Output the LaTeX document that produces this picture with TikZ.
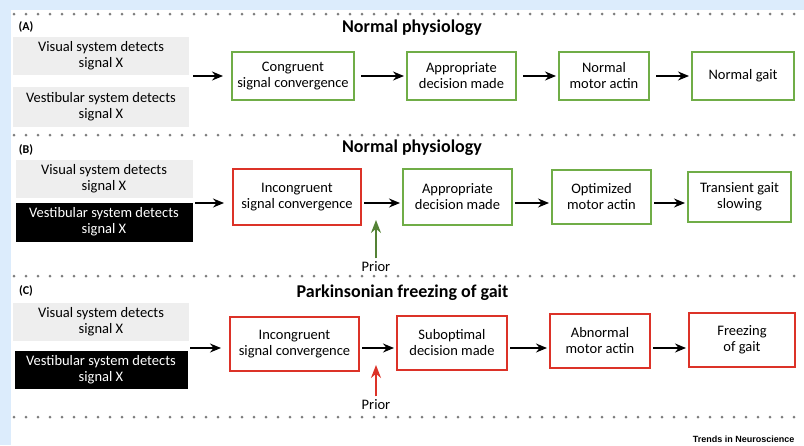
\documentclass[tikz,border=0pt]{standalone}
\usepackage{fontspec}
\setmainfont{Carlito}
\newfontfamily\journalfont{Liberation Sans}
\usetikzlibrary{arrows.meta,positioning}
\definecolor{sky}{RGB}{220,236,252}
\definecolor{okgreen}{RGB}{112,173,71}
\definecolor{priorgreen}{RGB}{84,130,53}
\definecolor{badred}{RGB}{220,50,40}
\definecolor{panelgray}{RGB}{238,238,238}
\definecolor{dotgray}{RGB}{125,125,125}
\tikzset{
  >={Stealth[length=11pt,width=9pt]},
  sense/.style={fill=#1,minimum width=176pt,minimum height=38pt,inner sep=0pt,
    align=center,font=\fontsize{14.5}{16}\selectfont},
  sense/.default=panelgray,
  dark sense/.style={sense=black,text=white},
  stepbox/.style={draw=#1,line width=2pt,fill=white,inner sep=0pt,
    align=center,font=\fontsize{14.5}{16}\selectfont},
  stepbox/.default=okgreen,
  flow/.style={->,line width=1.5pt,draw=#1},
  flow/.default=black,
  prior/.style={-{Stealth[length=13pt,width=10pt]},line width=1.6pt,draw=#1},
  divider/.style={dotgray,line width=3pt,line cap=round,dash pattern=on 0pt off 12pt},
  title/.style={font=\fontsize{18}{21}\selectfont\bfseries},
  panel/.style={font=\fontsize{12}{14}\selectfont\bfseries},
  tag/.style={font=\fontsize{14.5}{16}\selectfont},
}

\begin{document}
\begin{tikzpicture}[x=1pt,y=-1pt]
  \useasboundingbox (0,0) rectangle (804,445);
  \fill[sky] (0,0) rectangle (804,445);
  \fill[white] (11,10) rectangle (804,445);
  \foreach \y in {14,135,276,417}
    \draw[divider] (14,\y) -- (804,\y);

  % (A) normal physiology
  \node[panel] (alabel) at (26,27) {(A)};
  \node[title] (atitle) at (412,28) {Normal physiology};
  \node[sense] (avis) at (101,56) {Visual system detects\\signal X};
  \node[sense,minimum height=40pt] (avest) at (101,107) {Vestibular system detects\\signal X};
  \coordinate (asrc) at (193,76);
  \foreach \t/\x/\w [count=\i] in {
    Congruent\\signal convergence/293/122,
    Appropriate\\decision made/461.5/109,
    Normal\\motor actin/604/90,
    Normal gait/743/102}
    \node[stepbox=okgreen,minimum width=\w pt,minimum height=48pt] (a\i) at (\x,76) {\t};
  \draw[flow,shorten >=8pt] (asrc) -- (a1);
  \foreach \i/\j in {1/2,2/3,3/4}
    \draw[flow,shorten <=6pt,shorten >=2pt] (a\i) -- (a\j);

  % (B) normal physiology with mismatch
  \node[panel] (blabel) at (26,150) {(B)};
  \node[title] (btitle) at (412,148) {Normal physiology};
  \node[sense,minimum width=177pt] (bvis) at (104,179) {Visual system detects\\signal X};
  \node[dark sense,minimum width=177pt,minimum height=39pt] (bvest) at (104,222) {Vestibular system detects\\signal X};
  \coordinate (bsrc) at (195,203);
  \foreach \t/\c/\x/\w/\h [count=\i] in {
    Incongruent\\signal convergence/badred/297/128/56,
    Appropriate\\decision made/okgreen/457.5/109/56,
    Optimized\\motor actin/okgreen/601.5/99/54,
    Transient gait\\slowing/okgreen/739.5/103/50}
    \node[stepbox=\c,minimum width=\w pt,minimum height=\h pt] (b\i) at (\x,197) {\t};
  \draw[flow,shorten >=8pt] (bsrc) -- (b1.west |- bsrc);
  \foreach \i/\j in {1/2,2/3,3/4}
    \draw[flow,shorten <=2pt,shorten >=2pt] ([yshift=-6pt]b\i.east) -- ([yshift=-6pt]b\j.west);
  \node[tag] (bprior) at (376,267) {Prior};
  \coordinate (bjoin) at (376,220);
  \draw[prior=priorgreen] (bprior.north) -- (bjoin);

  % (C) parkinsonian freezing of gait
  \node[panel] (clabel) at (26,291) {(C)};
  \node[title] (ctitle) at (402.5,293) {Parkinsonian freezing of gait};
  \node[sense] (cvis) at (101,322) {Visual system detects\\signal X};
  \node[dark sense,minimum width=173pt] (cvest) at (101,370) {Vestibular system detects\\signal X};
  \coordinate (csrc) at (190,348);
  \foreach \t/\x/\y/\w [count=\i] in {
    Incongruent\\signal convergence/294.5/344/129,
    Suboptimal\\decision made/452/343/110,
    Abnormal\\motor actin/600/340.5/100,
    Freezing\\of gait/742/340/106}
    \node[stepbox=badred,minimum width=\w pt,minimum height=54pt] (c\i) at (\x,\y) {\t};
  \draw[flow,shorten >=8pt] (csrc) -- (c1.west |- csrc);
  \foreach \i/\j in {1/2,2/3,3/4}
    \draw[flow,shorten <=2pt,shorten >=2pt] (c\i.east |- csrc) -- (c\j.west |- csrc);
  \node[tag] (cprior) at (376,405) {Prior};
  \coordinate (cjoin) at (376,365);
  \draw[prior=badred] (cprior.north) -- (cjoin);

  \node[anchor=east,font=\journalfont\fontsize{9}{11}\selectfont\bfseries] (journal) at (798,439) {Trends in Neuroscience};
\end{tikzpicture}
\end{document}
